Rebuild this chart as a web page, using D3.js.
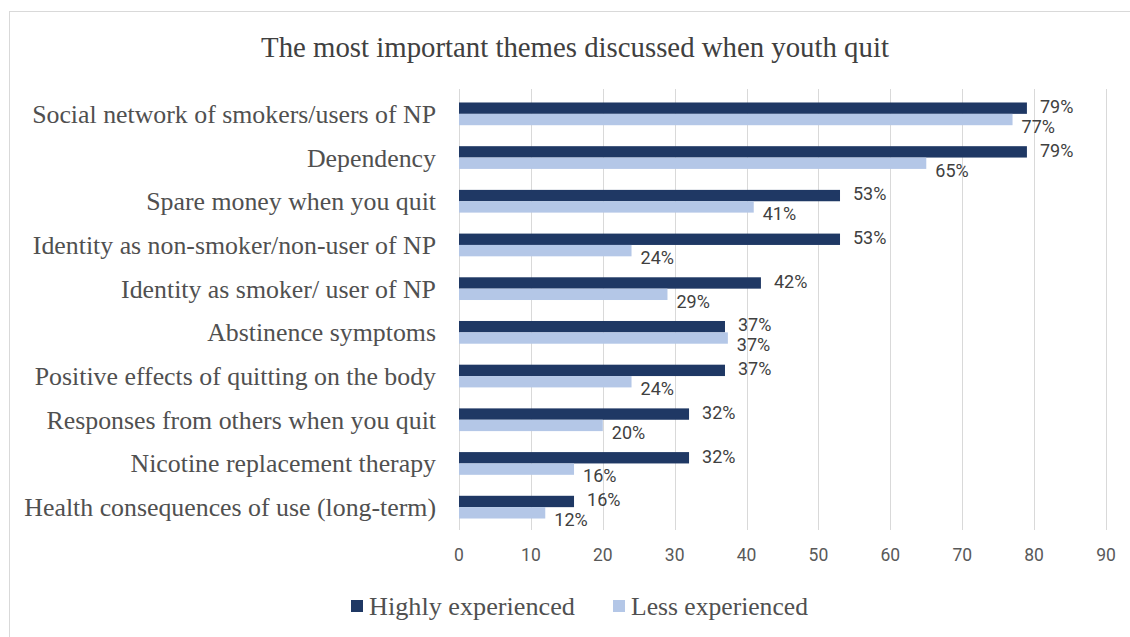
<!DOCTYPE html>
<html>
<head>
<meta charset="utf-8">
<script src="https://cdn.jsdelivr.net/npm/d3@7"></script>
<style>
  html, body { margin: 0; padding: 0; background: #ffffff; }
  svg { display: block; }
</style>
</head>
<body>
<svg id="chart" width="1130" height="637"></svg>
<script>
// ---- data ----
const title = "The most important themes discussed when youth quit";
const categories = [
  "Social network of smokers/users of NP",
  "Dependency",
  "Spare money when you quit",
  "Identity as non-smoker/non-user of NP",
  "Identity as smoker/ user of NP",
  "Abstinence symptoms",
  "Positive effects of quitting on the body",
  "Responses from others when you quit",
  "Nicotine replacement therapy",
  "Health consequences of use (long-term)"
];
const highlyExperienced = [79, 79, 53, 53, 42, 37, 37, 32, 32, 16];
const lessExperienced   = [77, 65, 41, 24, 29, 37.4, 24, 20, 16, 12];
const seriesNames = ["Highly experienced", "Less experienced"];
const xTicks = [0, 10, 20, 30, 40, 50, 60, 70, 80, 90];

// ---- style ----
const colors = ["#1f3864", "#b4c7e7"];
const serif = "'Liberation Serif', 'Times New Roman', serif";
const sans = "Roboto, 'Open Sans', sans-serif";

const svg = d3.select("#chart");

// chart border
svg.append("rect")
  .attr("x", 9.5).attr("y", 11.5)
  .attr("width", 1200).attr("height", 700)
  .attr("fill", "#ffffff").attr("stroke", "#d9d9d9").attr("stroke-width", 1);

function fitFont(sel, target) {
  sel.style("font-size", "20px");
  const w = sel.node().getComputedTextLength();
  sel.style("font-size", (20 * target / w) + "px");
}

// scales
const x = d3.scaleLinear().domain([0, 90]).range([459, 1106]);
const y = d3.scaleBand().domain(categories).range([92, 529])
  .paddingInner(0.48).paddingOuter(0.24);
const ySub = d3.scaleBand().domain(seriesNames).range([0, y.bandwidth()]);

// gridlines
svg.append("g").selectAll("line").data(xTicks).join("line")
  .attr("x1", d => Math.round(x(d)) + 0.5).attr("x2", d => Math.round(x(d)) + 0.5)
  .attr("y1", 89).attr("y2", 530)
  .attr("stroke", "#d9d9d9").attr("stroke-width", 1);

// x tick labels
svg.append("g").selectAll("text").data(xTicks).join("text")
  .attr("x", d => x(d)).attr("y", 555)
  .attr("dy", "0.35em")
  .attr("text-anchor", "middle")
  .style("font-family", sans).style("font-size", "17.5px")
  .attr("fill", "#595959")
  .text(d => d);

// title
const t = svg.append("text")
  .attr("x", 575).attr("y", 47).attr("dy", "0.35em")
  .attr("text-anchor", "middle")
  .style("font-family", serif)
  .attr("fill", "#404040")
  .text(title);
fitFont(t, 628);

// category labels
const catLabels = svg.append("g").selectAll("text").data(categories).join("text")
  .attr("x", 436)
  .attr("y", d => y(d) + y.bandwidth() / 2)
  .attr("dy", "0.35em")
  .attr("text-anchor", "end")
  .style("font-family", serif)
  .attr("fill", "#505050")
  .text(d => d);
const longest = catLabels.filter(d => d === categories[9]);
fitFont(longest, 412);
catLabels.style("font-size", longest.style("font-size"));

// bars
const seriesData = [highlyExperienced, lessExperienced];
seriesData.forEach((vals, si) => {
  svg.append("g").selectAll("rect").data(vals).join("rect")
    .attr("x", x(0))
    .attr("y", (d, i) => y(categories[i]) + ySub(seriesNames[si]))
    .attr("width", d => x(d) - x(0))
    .attr("height", ySub.bandwidth())
    .attr("fill", colors[si]);
});

// data labels
seriesData.forEach((vals, si) => {
  svg.append("g").selectAll("text").data(vals).join("text")
    .attr("x", d => x(d) + (si === 0 ? 13 : 9))
    .attr("y", (d, i) => y(categories[i]) + ySub(seriesNames[si]) + ySub.bandwidth() / 2 + (si === 0 ? -1.5 : 7))
    .attr("dy", "0.35em")
    .style("font-family", sans).style("font-size", "18px")
    .attr("fill", "#404040")
    .text(d => Math.round(d) + "%");
});

// legend
const legendX = [351, 613];
const legendTargets = [206, 177];
seriesNames.forEach((name, i) => {
  svg.append("rect")
    .attr("x", legendX[i]).attr("y", 600)
    .attr("width", 12).attr("height", 12)
    .attr("fill", colors[i]);
  const lt = svg.append("text")
    .attr("x", legendX[i] + 18).attr("y", 606).attr("dy", "0.35em")
    .style("font-family", serif)
    .attr("fill", "#505050")
    .text(name);
  fitFont(lt, legendTargets[i]);
});
</script>
</body>
</html>
